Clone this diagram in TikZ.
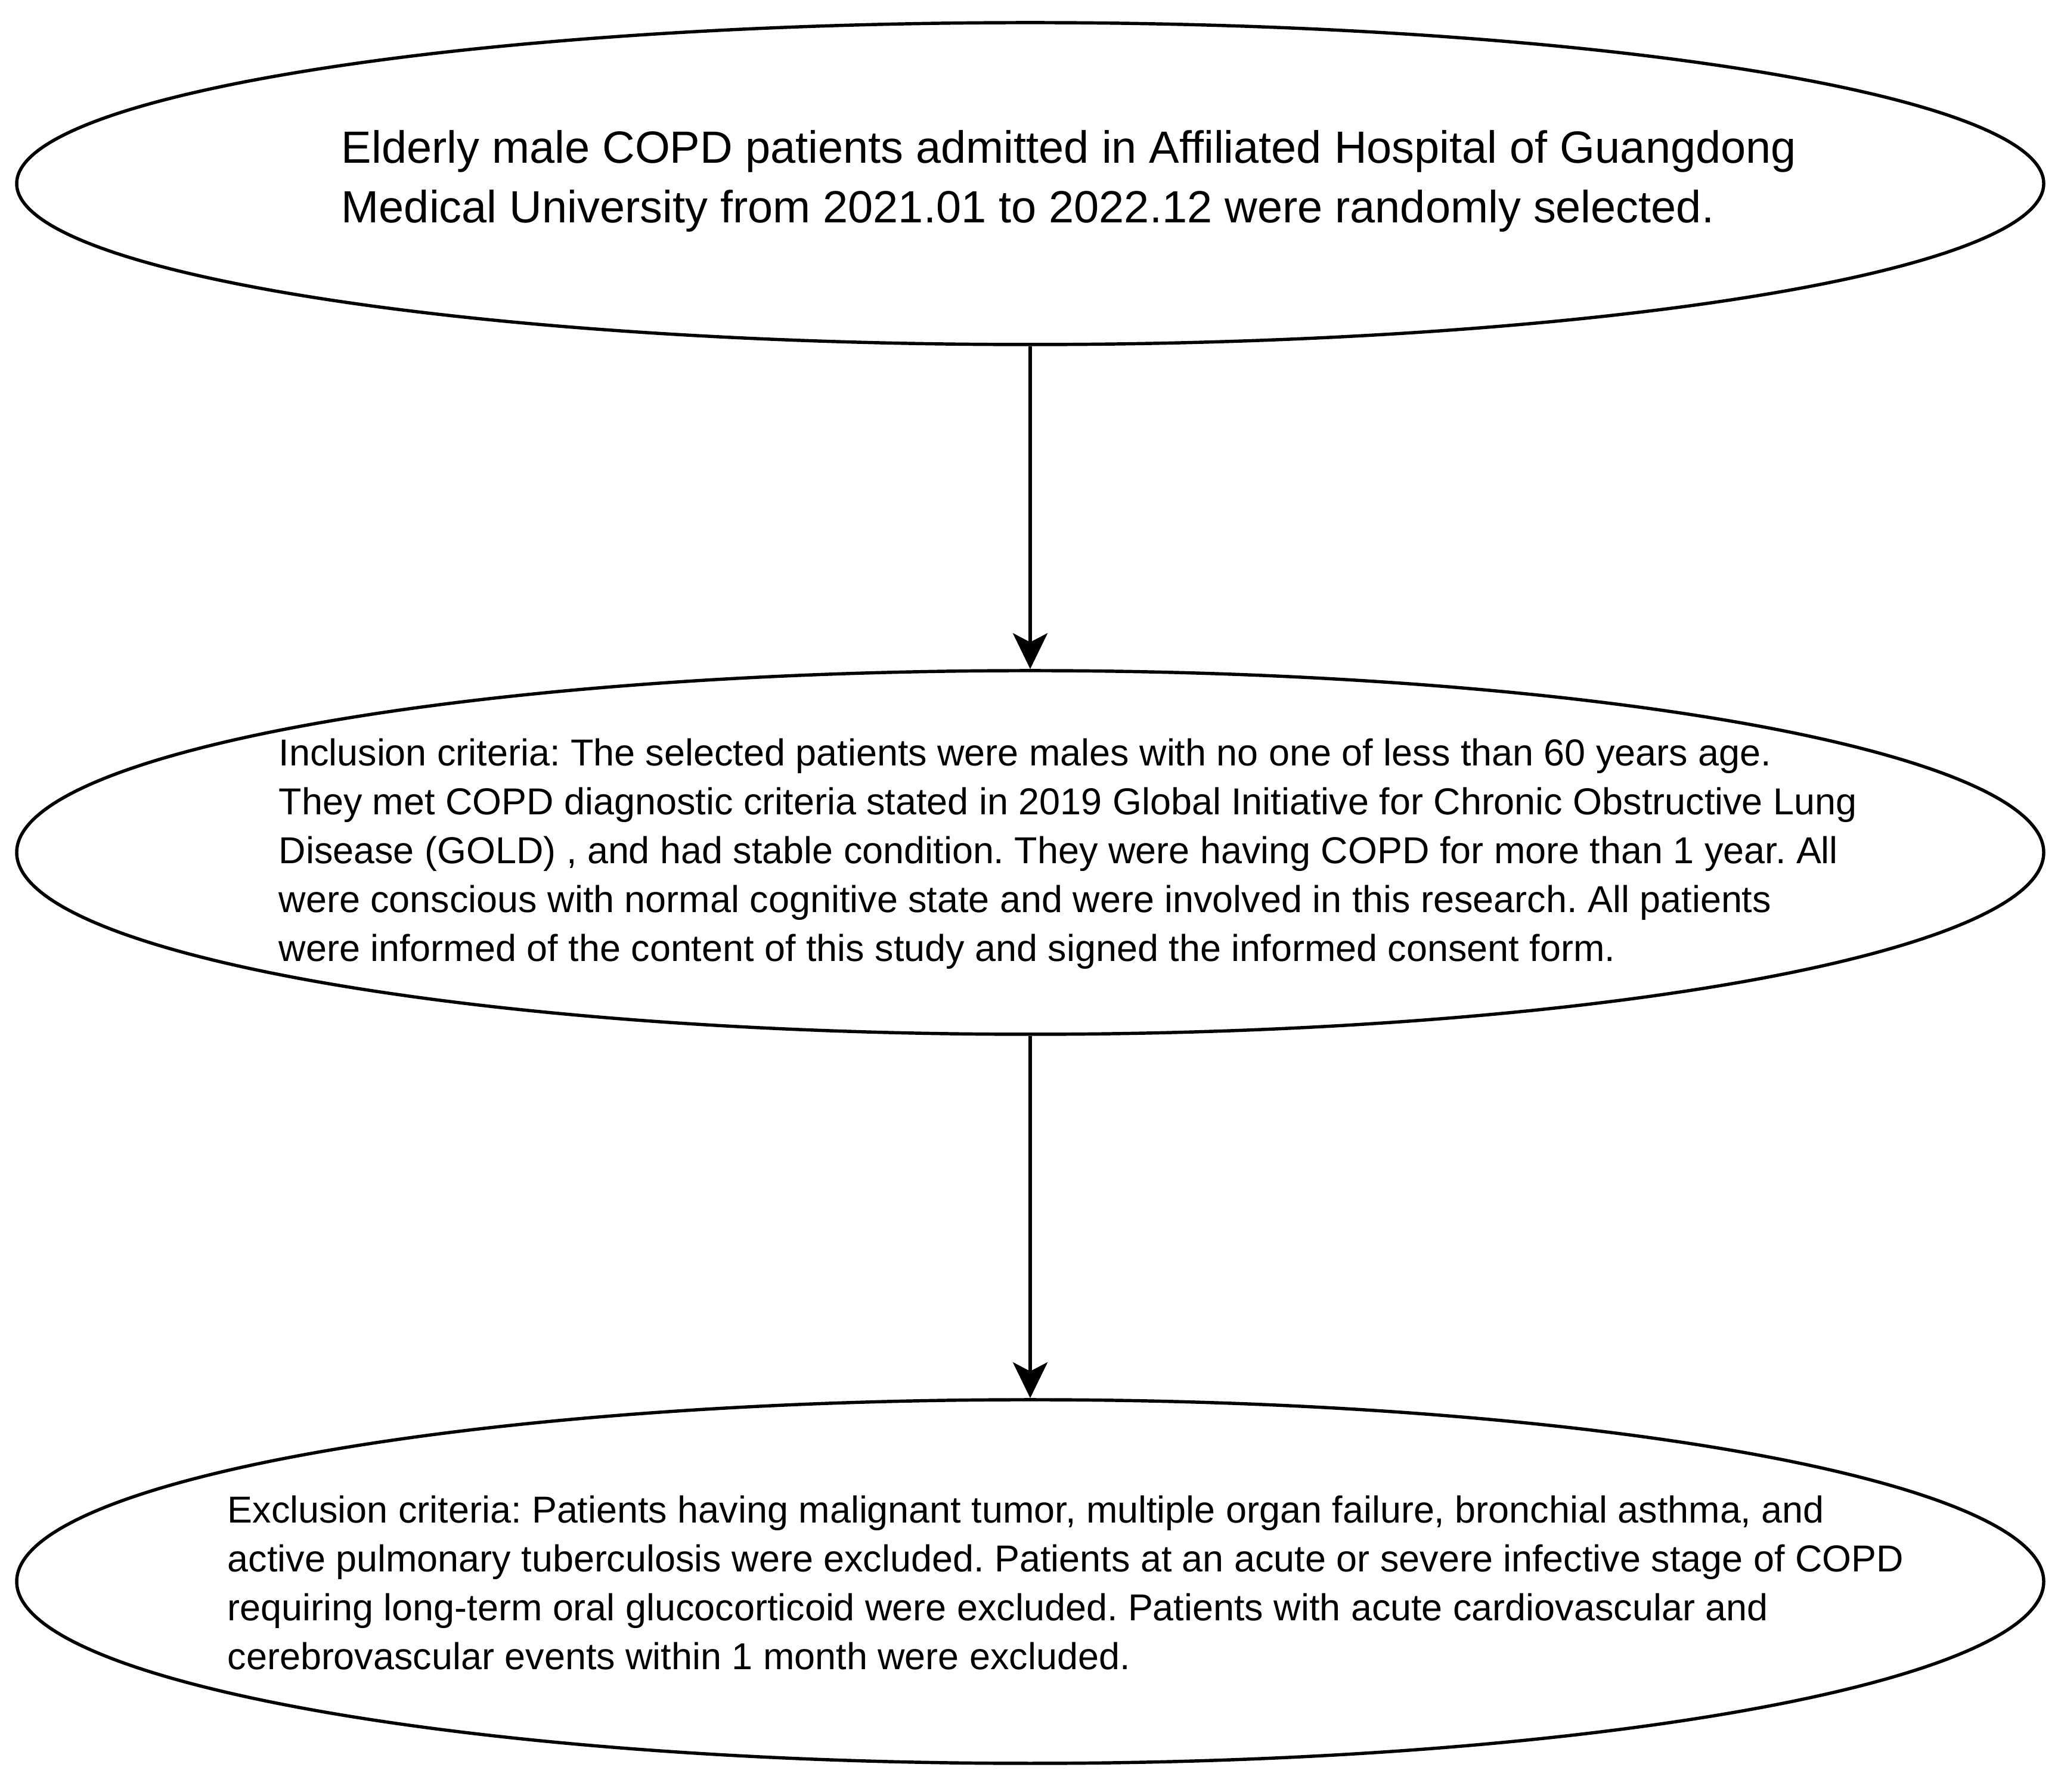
\documentclass[tikz,border=0pt]{standalone}
\usepackage{fontspec}
\setmainfont{Liberation Sans}
\usetikzlibrary{shapes.geometric,arrows.meta}
\frenchspacing

\begin{document}
\begin{tikzpicture}
  \tikzset{blob/.style={draw, ellipse, line width=1.55pt, minimum width=34cm, inner sep=0pt},
    bigtext/.style={anchor=west, inner sep=0pt, align=left, font=\fontsize{21.55pt}{28.4pt}\selectfont},
    smalltext/.style={anchor=west, inner sep=0pt, align=left, font=\fontsize{17.9pt}{23.3pt}\selectfont},
    flow/.style={line width=1.7pt, -{Stealth[length=0.6cm, width=0.58cm, inset=0.15cm]}}}
  \useasboundingbox (0,0) rectangle (34.57,30.06);
  \node[blob, minimum height=5.4cm] (sel) at (17.28,26.98) {};
  \node[blob, minimum height=6.1cm] (incl) at (17.28,15.76) {};
  \node[blob, minimum height=6.1cm] (excl) at (17.28,3.53) {};
  \node[bigtext] (seltext) at (5.72,27.02) {Elderly male COPD patients admitted in Affiliated Hospital of Guangdong\\
    Medical University from 2021.01 to 2022.12 were randomly selected.};
  \node[smalltext] (incltext) at (4.67,15.74) {Inclusion criteria: The selected patients were males with no one of less than 60 years age.\\
    They met COPD diagnostic criteria stated in 2019 Global Initiative for Chronic Obstructive Lung\\
    Disease (GOLD) , and had stable condition. They were having COPD for more than 1 year. All\\
    were conscious with normal cognitive state and were involved in this research. All patients\\
    were informed of the content of this study and signed the informed consent form.};
  \node[smalltext] (excltext) at (3.81,3.51) {Exclusion criteria: Patients having malignant tumor, multiple organ failure, bronchial asthma, and\\
    active pulmonary tuberculosis were excluded. Patients at an acute or severe infective stage of COPD\\
    requiring long-term oral glucocorticoid were excluded. Patients with acute cardiovascular and\\
    cerebrovascular events within 1 month were excluded.};
  \draw[flow] (sel) -- (incl);
  \draw[flow] (incl) -- (excl);
\end{tikzpicture}
\end{document}
